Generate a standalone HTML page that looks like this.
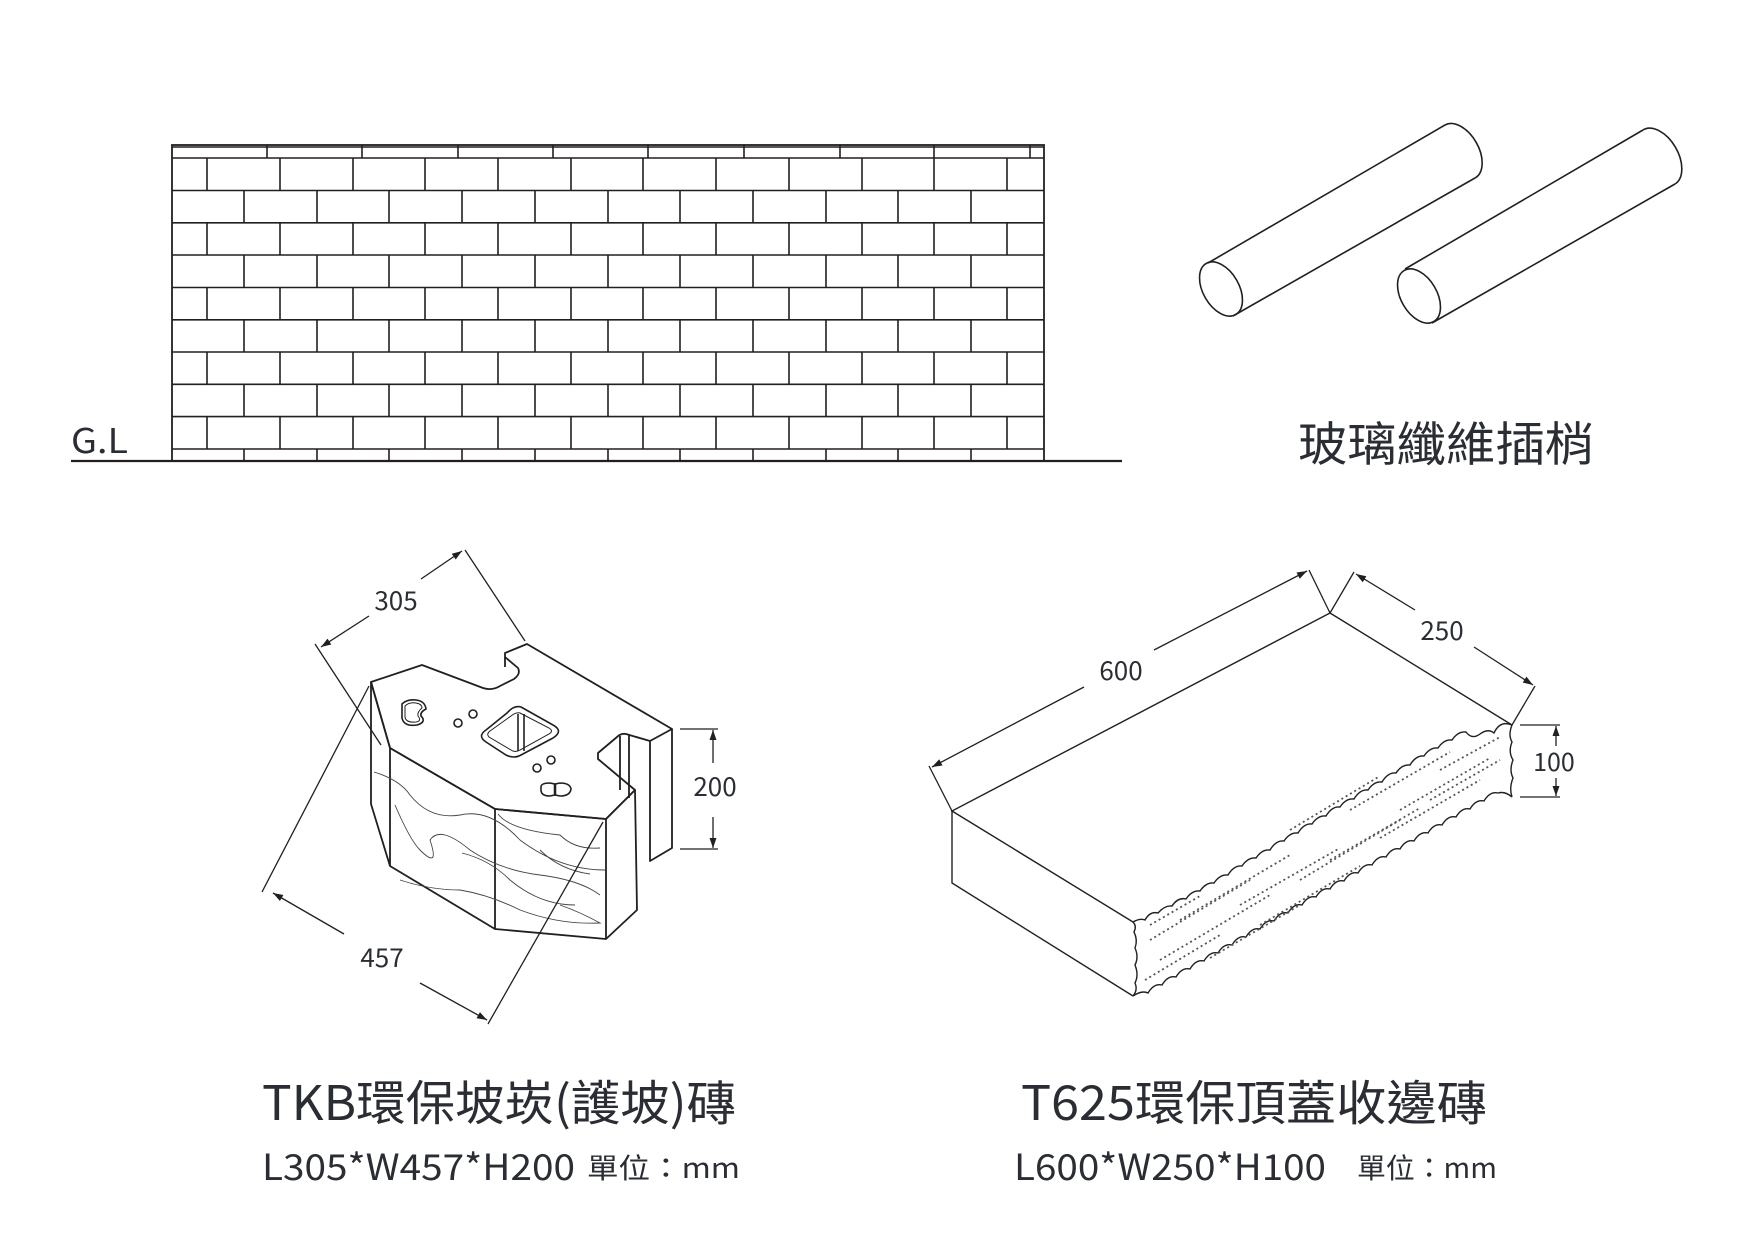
<!DOCTYPE html>
<html><head><meta charset="utf-8"><style>
html,body{margin:0;padding:0;background:#fff;}
svg{display:block;}
text{font-family:"Noto Sans CJK TC","Liberation Sans",sans-serif;fill:#2a2d33;}
</style></head><body>
<svg width="1754" height="1240" viewBox="0 0 1754 1240" xmlns="http://www.w3.org/2000/svg">
<defs>
<marker id="ar" viewBox="0 0 10 10" refX="10" refY="5" markerWidth="14" markerHeight="10" orient="auto-start-reverse" markerUnits="userSpaceOnUse">
<path d="M0,1.5 L10,5 L0,8.5 Z" fill="#231f20"/></marker>
</defs>
<g stroke="#231f20" fill="none" stroke-width="1.6">
<!-- wall -->
<rect x="172" y="145" width="872" height="316" stroke-width="1.8"/>
<line x1="172" y1="147" x2="1044" y2="147"/>
<g>
<line x1="172" y1="158" x2="1044" y2="158"/>
<line x1="172" y1="190.5" x2="1044" y2="190.5"/>
<line x1="172" y1="222.8" x2="1044" y2="222.8"/>
<line x1="172" y1="255" x2="1044" y2="255"/>
<line x1="172" y1="287.5" x2="1044" y2="287.5"/>
<line x1="172" y1="319.8" x2="1044" y2="319.8"/>
<line x1="172" y1="352" x2="1044" y2="352"/>
<line x1="172" y1="384.3" x2="1044" y2="384.3"/>
<line x1="172" y1="416.6" x2="1044" y2="416.6"/>
<line x1="172" y1="449" x2="1044" y2="449"/>
</g>
<path d="M267 145V158M362 145V158M458 145V158M553 145V158M648 145V158M744 145V158M840 145V158M934 145V158M1030 145V158"/>
<path id="odd" d="M207 158V190.5M280 158V190.5M353 158V190.5M425 158V190.5M498 158V190.5M571 158V190.5M643 158V190.5M716 158V190.5M789 158V190.5M862 158V190.5M934 158V190.5M1007 158V190.5"/>
<use href="#odd" y="64.6"/><use href="#odd" y="129.2"/><use href="#odd" y="193.8"/><use href="#odd" y="258.4"/>
<path id="even" d="M244 190.5V222.8M317 190.5V222.8M389 190.5V222.8M462 190.5V222.8M535 190.5V222.8M608 190.5V222.8M680 190.5V222.8M753 190.5V222.8M826 190.5V222.8M898 190.5V222.8M971 190.5V222.8"/>
<use href="#even" y="64.6"/><use href="#even" y="129.2"/><use href="#even" y="193.8"/>
<path d="M244 449V461M317 449V461M389 449V461M462 449V461M535 449V461M608 449V461M680 449V461M753 449V461M826 449V461M898 449V461M971 449V461"/>
<line x1="71" y1="461" x2="1122" y2="461" stroke-width="2.2"/>

<!-- pipes -->
<ellipse cx="1221" cy="289" rx="18" ry="29.5" transform="rotate(-30 1221 289)"/>
<line x1="1208" y1="263" x2="1445" y2="125"/>
<line x1="1233" y1="316" x2="1475" y2="178"/>
<path d="M1445 125 A18 29.5 -30 0 1 1475 178"/>
<ellipse cx="1419" cy="296" rx="18" ry="29.5" transform="rotate(-30 1419 296)"/>
<line x1="1405" y1="269" x2="1643" y2="130"/>
<line x1="1432" y1="323" x2="1675" y2="184"/>
<path d="M1643 130 A18 29.5 -30 0 1 1675 184"/>

<!-- TKB block -->
<g stroke-width="1.8" stroke-linejoin="round">
<path d="M371 682 L422 665 L483 688 Q492 691 500 686 L514 679 Q521 674 518 668 L505 657 L505 653 L527 644 L672 729 L650 741 L626 734 Q621 733 617 737 L598 753 L598 759 L635 790 L606 819 L495 809 L390 748 Z"/>
<path d="M371 682 L390 748 L390 866 L371 804 Z"/>
<path d="M390 748 L495 809 L495 929 L390 866"/>
<path d="M495 809 L606 819 L606 939 L495 929"/>
<path d="M606 819 L635 790 L637 910 L606 939"/>
<path d="M672 729 L672 848 L650 861 L650 741"/>
<path d="M620 736 L620 790 M629 735 L629 798"/>
<path d="M505 657 L505 667"/>
</g>
<g stroke-width="1.6">
<path d="M402 704 Q407 699 416 700 Q425 701 426 709 Q420 712 421 716 Q427 722 417 725 Q404 727 402 718 Z"/>
<path d="M405 706 Q409 702 416 703 Q422 704 422 708 Q417 712 418 716 Q422 721 416 722 Q406 723 405 717 Z" stroke-width="1"/>
<path d="M521 707 L553 725 Q564 731 553 738 L521 755 Q514 759 506 755 L486 742 Q477 736 486 730 L507 713 Q514 705 521 707 Z"/>
<path d="M520 713 L549 728 Q554 731 549 734 L520 750 Q515 753 511 750 L489 737 Q486 734 490 731 L511 716 Q516 712 520 713 Z" stroke-width="1"/>
<line x1="518" y1="714" x2="518" y2="751"/><line x1="524" y1="714" x2="524" y2="751"/>
<path d="M541 787 Q541 783 550 783 L555 784 L560 783 Q570 783 571 789 Q570 796 560 796 L555 795 L550 796 Q541 796 541 790 Z"/>
<line x1="555" y1="784" x2="555" y2="795" stroke-width="2.5"/>
<circle cx="458" cy="723" r="4"/><circle cx="473" cy="714" r="4"/>
<circle cx="537" cy="768" r="4"/><circle cx="551" cy="760" r="4"/>
</g>
<g stroke-width="0.9" stroke="#444">
<path d="M374 772 Q400 780 410 795 Q430 820 460 815 Q490 808 520 840 Q560 870 605 870"/>
<path d="M395 805 Q410 840 420 850 Q440 870 430 840 Q440 825 470 850 Q500 870 540 875 Q580 880 600 895"/>
<path d="M400 880 Q430 890 460 890 Q490 895 520 910 Q560 925 600 923 Q580 912 560 905"/>
<path d="M462 853 Q490 860 510 880 Q540 905 575 905"/>
<path d="M498 814 Q510 830 560 835 Q575 850 600 848"/>
<path d="M540 850 Q560 870 590 874"/>
</g>
<g stroke-width="1.3">
<line x1="315" y1="644" x2="381" y2="745"/>
<line x1="465" y1="550" x2="525" y2="641"/>
<line x1="369" y1="616" x2="321" y2="647" marker-end="url(#ar)"/>
<line x1="421" y1="579" x2="462" y2="551" marker-end="url(#ar)"/>
<line x1="369" y1="686" x2="262" y2="892"/>
<line x1="603" y1="822" x2="488" y2="1024"/>
<line x1="344" y1="934" x2="273" y2="893" marker-end="url(#ar)"/>
<line x1="420" y1="983" x2="487" y2="1020" marker-end="url(#ar)"/>
<line x1="680" y1="729" x2="718" y2="729"/>
<line x1="680" y1="849" x2="718" y2="849"/>
<line x1="713" y1="763" x2="713" y2="730" marker-end="url(#ar)"/>
<line x1="713" y1="817" x2="713" y2="848" marker-end="url(#ar)"/>

<!-- T625 block -->
<g stroke-width="1.4">
<path d="M1330 613 L952 811 L1133 922"/>
<path d="M1330 613 L1512 725"/>
<path d="M952 811 L952 883 L1133 996"/>
<path d="M1133 922 Q1137 926 1134 932 Q1138 940 1135 948 Q1139 957 1135 965 Q1139 975 1135 983 Q1138 990 1133 996"/>
<path d="M1133 922 Q1140 918 1145 920 Q1150 911 1158 913 Q1165 905 1172 906 Q1178 897 1186 899 Q1192 890 1200 891 Q1206 882 1214 883 Q1220 874 1228 875 Q1234 865 1242 866 Q1248 857 1256 858 Q1262 849 1270 850 Q1276 840 1284 841 Q1290 832 1298 833 Q1304 823 1312 824 Q1318 815 1326 816 Q1332 806 1340 807 Q1346 798 1354 799 Q1360 789 1368 790 Q1374 781 1382 782 Q1388 772 1396 773 Q1402 764 1410 765 Q1416 755 1424 756 Q1430 747 1438 748 Q1444 739 1452 740 Q1458 731 1466 732 Q1472 740 1480 734 Q1488 728 1494 733 Q1500 720 1512 725"/>
<path d="M1512 725 Q1508 735 1512 742 Q1508 752 1513 760 Q1509 770 1513 778 Q1509 788 1512 797"/>
<path d="M1133 996 Q1142 990 1148 993 Q1154 983 1162 985 Q1168 975 1176 977 Q1182 967 1190 969 Q1196 959 1204 961 Q1210 951 1218 953 Q1224 943 1232 945 Q1238 935 1246 937 Q1252 927 1260 929 Q1266 919 1274 921 Q1280 911 1288 913 Q1294 903 1302 905 Q1308 895 1316 897 Q1322 887 1330 889 Q1336 879 1344 881 Q1350 871 1358 873 Q1364 863 1372 865 Q1378 855 1386 857 Q1392 847 1400 849 Q1406 839 1414 841 Q1420 831 1428 833 Q1434 823 1442 825 Q1448 815 1456 817 Q1462 807 1470 809 Q1476 799 1484 801 Q1490 791 1498 793 Q1505 791 1512 797"/>
</g>
<g stroke="#555" stroke-width="1.8" stroke-dasharray="2 3">
<path d="M1150 940 L1250 880 M1160 960 L1270 895 M1145 980 L1220 935 M1240 905 L1340 848 M1260 925 L1360 866 M1300 880 L1400 820 M1330 860 L1420 808 M1380 838 L1480 780 M1400 810 L1490 758 M1430 800 L1500 760 M1290 830 L1380 776 M1180 920 L1290 855 M1350 810 L1450 752 M1210 958 L1300 905 M1150 925 L1200 896 M1440 770 L1500 737"/>
</g>
<line x1="952" y1="811" x2="929" y2="766"/>
<line x1="1330" y1="613" x2="1309" y2="570"/>
<line x1="1084" y1="687" x2="932" y2="767" marker-end="url(#ar)"/>
<line x1="1154" y1="650" x2="1307" y2="571" marker-end="url(#ar)"/>
<line x1="1330" y1="613" x2="1354" y2="572"/>
<line x1="1512" y1="725" x2="1535" y2="686"/>
<line x1="1415" y1="610" x2="1356" y2="574" marker-end="url(#ar)"/>
<line x1="1474" y1="647" x2="1533" y2="685" marker-end="url(#ar)"/>
<line x1="1520" y1="725" x2="1560" y2="725"/>
<line x1="1520" y1="797" x2="1560" y2="797"/>
<line x1="1556" y1="746" x2="1556" y2="726" marker-end="url(#ar)"/>
<line x1="1556" y1="778" x2="1556" y2="796" marker-end="url(#ar)"/>
</g>
</g>

<g font-size="26">
<text x="396" y="610" text-anchor="middle">305</text>
<text x="382" y="967" text-anchor="middle">457</text>
<text x="715" y="796" text-anchor="middle">200</text>
<text x="1121" y="680" text-anchor="middle">600</text>
<text x="1442" y="640" text-anchor="middle">250</text>
<text x="1554" y="771" text-anchor="middle" font-size="25">100</text>
</g>
<text x="71" y="453" font-size="34" textLength="57" lengthAdjust="spacingAndGlyphs">G.L</text>
<text x="1298" y="461" font-size="47" textLength="296" lengthAdjust="spacingAndGlyphs">玻璃纖維插梢</text>
<text x="262" y="1120" font-size="48" textLength="474" lengthAdjust="spacingAndGlyphs">TKB環保坡崁(護坡)磚</text>
<text x="262" y="1180" font-size="36" textLength="313" lengthAdjust="spacingAndGlyphs">L305*W457*H200</text>
<text x="587" y="1178" font-size="28" textLength="153" lengthAdjust="spacingAndGlyphs">單位：mm</text>
<text x="1021" y="1120" font-size="48" textLength="466" lengthAdjust="spacingAndGlyphs">T625環保頂蓋收邊磚</text>
<text x="1014" y="1180" font-size="36" textLength="312" lengthAdjust="spacingAndGlyphs">L600*W250*H100</text>
<text x="1357" y="1178" font-size="28" textLength="140" lengthAdjust="spacingAndGlyphs">單位：mm</text>
</svg>
</body></html>
